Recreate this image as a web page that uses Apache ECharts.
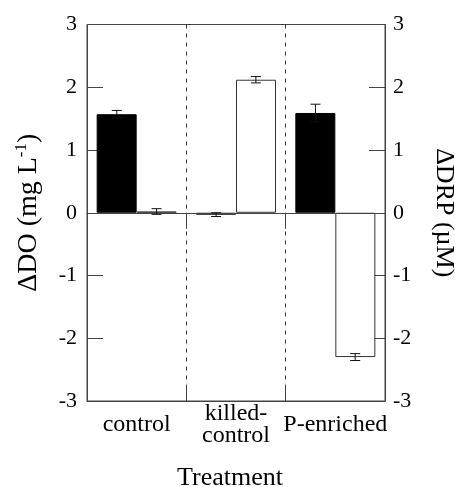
<!DOCTYPE html>
<html>
<head>
<meta charset="utf-8">
<script src="https://cdn.jsdelivr.net/npm/echarts@6/dist/echarts.min.js"></script>
<style>html,body{margin:0;padding:0;background:#fff;}#c{width:455px;height:487px;}</style>
</head>
<body>
<div id="c"></div>
<script>
const categories = ['control', 'killed-\ncontrol', 'P-enriched'];
const doMean = [1.57, -0.03, 1.59];
const doErr = [0.06, 0.03, 0.14];
const drpMean = [0.02, 2.12, -2.30];
const drpErr = [0.045, 0.05, 0.055];
const yMin = -3, yMax = 3, yStep = 1;

const FONT = "'Liberation Serif', 'Times New Roman', serif";
const chart = echarts.init(document.getElementById('c'));

function errSeries(means, errs, sign, yIdx) {
  return {
    type: 'custom',
    yAxisIndex: yIdx,
    z: 5,
    silent: true,
    data: means.map((m, i) => [i, m, errs[i]]),
    renderItem: function (params, api) {
      const i = api.value(0), m = api.value(1), e = api.value(2);
      const band = api.size([1, 0])[0];
      const off = sign * band * 0.2;
      const hi = api.coord([i, m + e]);
      const lo = api.coord([i, m - e]);
      const x = hi[0] + off;
      const cap = 5;
      const st = { stroke: '#111', lineWidth: 1 };
      return {
        type: 'group',
        children: [
          { type: 'line', shape: { x1: x, y1: hi[1], x2: x, y2: lo[1] }, style: st },
          { type: 'line', shape: { x1: x - cap, y1: hi[1], x2: x + cap, y2: hi[1] }, style: st },
          { type: 'line', shape: { x1: x - cap, y1: lo[1], x2: x + cap, y2: lo[1] }, style: st }
        ]
      };
    }
  };
}

const yAxisCommon = {
  type: 'value', min: yMin, max: yMax, interval: yStep,
  axisLine: { show: true, lineStyle: { color: '#444', width: 1 } },
  axisTick: { show: true, inside: true, length: 16, lineStyle: { color: '#444' } },
  splitLine: { show: false },
  nameLocation: 'middle',
  axisLabel: { color: '#000', fontFamily: FONT, fontSize: 22 }
};

chart.setOption({
  animation: false,
  backgroundColor: '#fff',
  grid: { left: 87, right: 70, top: 24.5, bottom: 86, show: true, borderColor: '#444', borderWidth: 1, containLabel: false, outerBoundsMode: 'none' },
  xAxis: [{
    type: 'category', data: categories,
    axisLine: { show: true, onZero: false, lineStyle: { color: '#444' } },
    axisTick: { show: true, inside: true, length: 16, lineStyle: { color: '#444' } },
    splitLine: { show: true, lineStyle: { color: '#333', type: [4, 5], width: 1 } },
    axisLabel: { color: '#000', fontFamily: FONT, fontSize: 24, lineHeight: 22, verticalAlign: 'middle', margin: 24, interval: 0 },
    name: 'Treatment', nameLocation: 'middle', nameGap: 64,
    nameTextStyle: { color: '#000', fontFamily: FONT, fontSize: 26, padding: [0, 12, 0, 0] }
  }, {
    type: 'category', data: categories, position: 'top',
    axisLine: { show: true, lineStyle: { color: '#444' } },
    axisTick: { show: true, inside: true, length: 16, lineStyle: { color: '#444' } },
    axisLabel: { show: false }
  }],
  yAxis: [Object.assign({}, yAxisCommon, {
    position: 'left',
    axisLabel: Object.assign({}, yAxisCommon.axisLabel, { margin: 10 }),
    name: '{a|ΔDO (mg L}{s|-1}{a|)}', nameRotate: 90, nameGap: 42,
    nameTextStyle: {
      rich: {
        a: { fontFamily: FONT, fontSize: 28, color: '#000', lineHeight: 32 },
        s: { fontFamily: FONT, fontSize: 17, color: '#000', lineHeight: 32, verticalAlign: 'top', padding: [0, 0, 15, 0] }
      }
    }
  }), Object.assign({}, yAxisCommon, {
    position: 'right',
    axisLabel: Object.assign({}, yAxisCommon.axisLabel, { margin: 8 }),
    name: 'ΔDRP (µM)', nameRotate: -90, nameGap: 46,
    nameTextStyle: { fontFamily: FONT, fontSize: 26, color: '#000' }
  })],
  series: [{
    type: 'bar', name: 'ΔDO', data: doMean, yAxisIndex: 0,
    barWidth: 40, barGap: '0%',
    itemStyle: { color: '#000', borderColor: '#000', borderWidth: 1 },
    markLine: {
      silent: true, symbol: ['none', 'none'], label: { show: false },
      lineStyle: { color: '#444', type: 'solid', width: 1 },
      data: [{ yAxis: 0 }]
    }
  }, {
    type: 'bar', name: 'ΔDRP', data: drpMean, yAxisIndex: 1,
    barWidth: 40, barGap: '0%',
    itemStyle: { color: '#fff', borderColor: '#333', borderWidth: 1 }
  },
  errSeries(doMean, doErr, -1, 0),
  errSeries(drpMean, drpErr, 1, 1)]
});
</script>
</body>
</html>
